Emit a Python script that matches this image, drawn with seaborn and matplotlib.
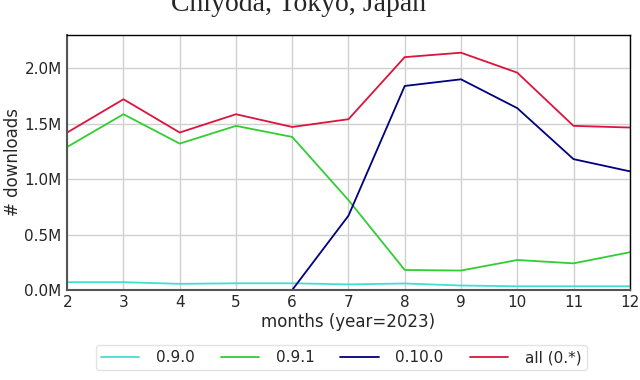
import matplotlib
matplotlib.use("Agg")
import matplotlib.pyplot as plt
import matplotlib.ticker as mticker
import seaborn as sns
import numpy as np
import pandas as pd

months = [2, 3, 4, 5, 6, 7, 8, 9, 10, 11, 12]
v090 = [0.07, 0.07, 0.055, 0.06, 0.06, 0.05, 0.058, 0.04, 0.033, 0.033, 0.033]
v091 = [1.29, 1.585, 1.32, 1.48, 1.38, 0.81, 0.18, 0.175, 0.27, 0.24, 0.34]
v0100 = [np.nan, np.nan, np.nan, np.nan, 0.0, 0.67, 1.84, 1.90, 1.64, 1.18, 1.07]
v_all = [1.42, 1.72, 1.42, 1.585, 1.47, 1.54, 2.10, 2.14, 1.96, 1.48, 1.465]

series = {"0.9.0": v090, "0.9.1": v091, "0.10.0": v0100, "all (0.*)": v_all}
palette = {"0.9.0": "#40E0D0", "0.9.1": "#32CD32", "0.10.0": "#000080", "all (0.*)": "#DC143C"}

rows = []
for name, vals in series.items():
    for m, v in zip(months, vals):
        rows.append({"month": m, "downloads": v * 1e6, "version": name})
df = pd.DataFrame(rows).dropna()

sns.set_style("whitegrid")
plt.rcParams["font.family"] = ["DejaVu Sans"]

fig = plt.figure(figsize=(6.4, 3.8), dpi=100)
ax = fig.add_axes([0.105, 0.237, 0.879, 0.671])
sns.lineplot(data=df, x="month", y="downloads", hue="version", palette=palette,
             hue_order=list(series.keys()), ax=ax, linewidth=1.3, legend=False)

ax.set_xlim(2, 12)
ax.set_ylim(0, 2.3e6)
ax.set_xticks(months)
ax.set_yticks([0, 0.5e6, 1.0e6, 1.5e6, 2.0e6])
ax.yaxis.set_major_formatter(mticker.FuncFormatter(lambda v, p: f"{v/1e6:.1f}M"))
ax.tick_params(labelsize=11, length=3, pad=1, color="#444444")
ax.set_xlabel("months (year=2023)", fontsize=12, labelpad=2)
ax.set_ylabel("# downloads", fontsize=12, labelpad=2)
ax.grid(color="#d0d0d0", linewidth=1)
for s in ["top", "right"]:
    ax.spines[s].set_color("black")
    ax.spines[s].set_linewidth(1)
for s in ["left", "bottom"]:
    ax.spines[s].set_color("#555555")
    ax.spines[s].set_linewidth(1.5)

handles = [plt.Line2D([], [], color=palette[k], linewidth=1.3) for k in series]
fig.legend(handles, list(series.keys()), loc="lower center", bbox_to_anchor=(0.533, 0.005),
           ncol=4, fontsize=11, handlelength=2.5, columnspacing=1.7, handletextpad=1.1,
           frameon=True, edgecolor="#dddddd", fancybox=True, borderpad=0.35)

# title sits partly above the canvas, as in the source figure
fig.text(0.466, 0.972, "Chiyoda, Tokyo, Japan", ha="center", va="baseline",
         fontsize=20, family=["Liberation Serif"])

fig.savefig("out.png", dpi=100)
